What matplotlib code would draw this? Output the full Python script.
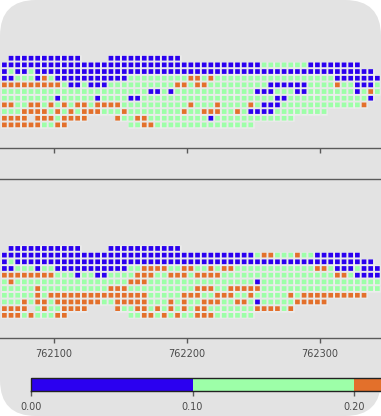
import matplotlib
matplotlib.use("Agg")
import numpy as np
import matplotlib.pyplot as plt
from matplotlib.colors import ListedColormap, BoundaryNorm
from matplotlib.cm import ScalarMappable
from matplotlib.patches import FancyBboxPatch

W, H = 381, 416
# cell classes per row, 10 columns per chunk; '.' = empty
panel_top = [
    ".bbbbbbbbb|bb....bbbb|bbbbbbb...",
    "bbbbbbbbbb|bbbbbbbbbb|bbbbbbbbbb|bbbbbbbbbg|ggggggbbbb|bbbb",
    "bgbbgbbbbb|bbbbbbbbbb|bbbbbbbbbb|bbbbbbbbbb|bbbbbbbbbb|bbbbbb",
    "bbgggbogbb|bbbbbbbbbg|ggggggggoo|gogggggggg|gggggggggg|bbbbbbb",
    "ooooooooog|bbgbbbgggg|ggggggoogo|oggggggggg|bbbbbbgggg|oggbbbg",
    "gggggggggg|gggggggggg|ggbbgbgggg|ggggggggbb|bgggbbgggg|gggbgog",
    "ggggggggbg|ggggbggggb|bggggggggg|gggggggggg|gbbggggggg|gggggb",
    "ooggoogogo|googoooogg|ggggggggog|ggoggggogb|bbgggggggg|ggggo",
    "gggoooogog|ogooogggog|gggggggogg|oooggogbbb|bgggggggg",
    "oooo.ooogo|ooo....ogg|oogggggggg|gbgggggggg|gggg",
    "ooooooggoo|.........g|googgggggg|gggggggg",
]
panel_bottom = [
    ".bbbbbbbbb|bb....bbbb|bbbbbbb...",
    "bbbbbbbbbb|bbbbbbbbbb|bbbbbbbbbb|bbbbbbbbgo|ogggoggbbb|bbbb",
    "bgbbbbbbbb|bbbbbbbbbb|bbbbbbbbbb|bbbbbbbbbb|bbbbbbbbbb|bbbbbb",
    "bbgggbggbb|bbbbbbbbbg|gooooggoog|gogooggggg|gggggggoog|bbbgbbb",
    "oooooooogg|gbggbbgggg|oooggooogo|oooggggggg|gggggggggg|oogbbbb",
    "gogggggggg|gggggggggo|oogggggggg|ggggggggbg|gggggggggg|ggggggg",
    "gggggogggg|ggggggooog|gggggggggo|ooggooooog|gggggggggg|ggggggg",
    "gggggogooo|oooooooooo|oogggggooo|ggoooggogg|gggogooooo|ooooo",
    "gggogoogoo|oooooggooo|oogggogogg|oooggoogbg|ggggooooo",
    "oooo.goggo|ooo....ogg|oogogogogo|ogggggggoo|oogo",
    "ooogogggoo|.........g|googogoggo|oogggggg",
]
class_values = {"b": 0.05, "g": 0.15, "o": 0.25}
x_start = 762063
x_step = 5
ticks_x = [762100, 762200, 762300]
cb_ticks = [0.0, 0.1, 0.2]
cb_bounds = [0.0, 0.1, 0.2, 0.3]
colors = ["#2B00F0", "#9DFFA8", "#E3702B"]

bg = "#E3E3E3"
spine = "#5A5A5A"
text_c = "#4A4A4A"
cmap = ListedColormap(colors)
norm = BoundaryNorm(cb_bounds, cmap.N)

fig = plt.figure(figsize=(W / 100, H / 100), dpi=100, facecolor="white")
fig.add_artist(FancyBboxPatch((0, 0), W, H, boxstyle="round,pad=0,rounding_size=36",
                              transform=None, fc=bg, ec="none", zorder=-5))


def ax_px(left, top, right, bottom):
    return fig.add_axes([left / W, 1 - bottom / H, (right - left) / W, (bottom - top) / H])


def draw(ax, rows):
    xs, ys, vs = [], [], []
    for r, row in enumerate(rows):
        for k, ch in enumerate(row.replace("|", "")):
            if ch in class_values:
                xs.append(x_start + x_step * k)
                ys.append(r)
                vs.append(class_values[ch])
    halo = ax.scatter(xs, ys, c="white", alpha=0.35, marker="s", s=21, linewidths=0, zorder=1)
    halo.set_snap(False)
    pts = ax.scatter(xs, ys, c=vs, cmap=cmap, norm=norm, marker="s", s=11.5,
                     linewidths=0, zorder=2)
    pts.set_snap(False)
    ax.set_facecolor("none")
    ax.set_xlim(762059.7, 762059.7 + W / 1.332)
    ax.set_ylim(10 + 22.6 / 6.67, 10 + 22.6 / 6.67 - 158.5 / 6.67)
    ax.set_yticks([])
    ax.set_xticks(ticks_x)
    for s in ("left", "right"):
        ax.spines[s].set_visible(False)
    for s in ("top", "bottom"):
        ax.spines[s].set_color(spine)
        ax.spines[s].set_linewidth(1.0)
    ax.tick_params(axis="x", length=3.5, width=1.0, color=spine, labelsize=7,
                   labelcolor=text_c, pad=4.5)
    ax.ticklabel_format(useOffset=False, style="plain", axis="x")


ax1 = ax_px(0, -11, W, 147.5)
draw(ax1, panel_top)
ax1.tick_params(labelbottom=False)
ax2 = ax_px(0, 179, W, 338)
draw(ax2, panel_bottom)

cax = ax_px(31, 378, 31 + 323 * 1.5, 391)
cb = fig.colorbar(ScalarMappable(norm=norm, cmap=cmap), cax=cax, orientation="horizontal",
                  ticks=cb_ticks, format="%.2f", spacing="proportional")
cb.outline.set_edgecolor("#222222")
cb.outline.set_linewidth(1.0)
cax.tick_params(axis="x", length=3.5, width=1.0, color=spine, labelsize=7,
                labelcolor=text_c, pad=4.5)

fig.savefig("out.png", dpi=100, facecolor="white")
